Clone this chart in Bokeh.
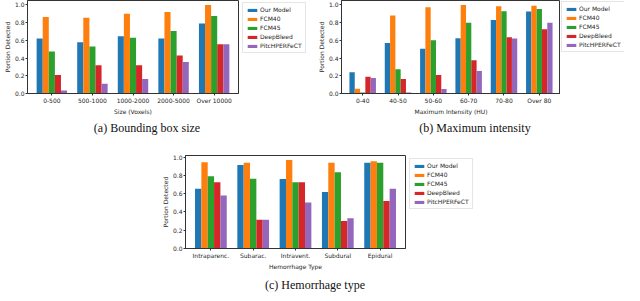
from bokeh.plotting import figure
from bokeh.layouts import column, row
from bokeh.models import (ColumnDataSource, FactorRange, Range1d, Legend, LegendItem,
                          FixedTicker, PrintfTickFormatter, Div, Spacer)
from bokeh.transform import dodge
from bokeh.embed import file_html
from bokeh.resources import INLINE

# ---------------- data ----------------
series_names = ["Our Model", "FCM40", "FCM45", "DeepBleed", "PitcHPERFeCT"]
series_keys = ["our", "fcm40", "fcm45", "deepbleed", "pitch"]
colors = ["#1f77b4", "#ff7f0e", "#2ca02c", "#d62728", "#9467bd"]

size_cats = ["0-500", "500-1000", "1000-2000", "2000-5000", "Over 10000"]
size_our = [0.62, 0.58, 0.645, 0.62, 0.79]
size_fcm40 = [0.865, 0.855, 0.90, 0.92, 1.0]
size_fcm45 = [0.475, 0.53, 0.63, 0.705, 0.875]
size_deepbleed = [0.21, 0.32, 0.32, 0.43, 0.555]
size_pitch = [0.035, 0.11, 0.165, 0.355, 0.555]

int_cats = ["0-40", "40-50", "50-60", "60-70", "70-80", "Over 80"]
int_our = [0.24, 0.57, 0.505, 0.625, 0.83, 0.925]
int_fcm40 = [0.055, 0.88, 0.975, 1.0, 0.985, 0.99]
int_fcm45 = [0.01, 0.275, 0.60, 0.80, 0.93, 0.955]
int_deepbleed = [0.19, 0.165, 0.21, 0.375, 0.635, 0.725]
int_pitch = [0.175, 0.01, 0.05, 0.255, 0.62, 0.80]

type_cats = ["Intraparenc.", "Subarac.", "Intravent.", "Subdural", "Epidural"]
type_our = [0.655, 0.915, 0.76, 0.62, 0.94]
type_fcm40 = [0.945, 0.94, 0.97, 0.94, 0.955]
type_fcm45 = [0.79, 0.765, 0.725, 0.835, 0.94]
type_deepbleed = [0.725, 0.315, 0.725, 0.30, 0.52]
type_pitch = [0.58, 0.315, 0.505, 0.33, 0.655]

y_ticks = [0.0, 0.2, 0.4, 0.6, 0.8, 1.0]

FONT = "DejaVu Sans"
TXT = "#262626"
LINE = "#333333"


def make_panel(cats, series, xlabel, w, h, bl, br, bt, bb):
    data = {"cat": cats}
    for k, v in zip(series_keys, series):
        data[k] = v
    src = ColumnDataSource(data)
    ymax = max(max(v) for v in series) * 1.05
    p = figure(x_range=FactorRange(factors=cats, range_padding=0.1,
                                   range_padding_units="absolute"),
               y_range=Range1d(0, ymax),
               width=w, height=h,
               min_border_left=bl, min_border_right=br,
               min_border_top=bt, min_border_bottom=bb,
               output_backend="svg", toolbar_location=None)
    bw = 0.15
    for i, (k, c) in enumerate(zip(series_keys, colors)):
        p.vbar(x=dodge("cat", (i - 2) * bw, range=p.x_range), top=k, width=bw,
               bottom=0, source=src, fill_color=c, line_color=None)

    p.grid.visible = False
    p.outline_line_color = LINE
    p.outline_line_width = 1
    p.background_fill_color = "white"
    p.border_fill_color = "white"
    for ax in (p.xaxis[0], p.yaxis[0]):
        ax.axis_line_color = LINE
        ax.major_tick_line_color = LINE
        ax.major_tick_out = 2
        ax.major_tick_in = 0
        ax.minor_tick_line_color = None
        ax.major_label_text_font = FONT
        ax.major_label_text_font_size = "6px"
        ax.major_label_text_color = TXT
        ax.major_label_standoff = 1
        ax.axis_label_text_font = FONT
        ax.axis_label_text_font_size = "6px"
        ax.axis_label_text_font_style = "normal"
        ax.axis_label_text_color = TXT
        ax.axis_label_standoff = 1
    p.xaxis[0].axis_label = xlabel
    p.xaxis[0].major_label_orientation = "horizontal"
    p.yaxis[0].axis_label = "Portion Detected"
    p.yaxis[0].ticker = FixedTicker(ticks=y_ticks)
    p.yaxis[0].formatter = PrintfTickFormatter(format="%.1f")
    return p


def make_legend(w, h, m):
    # legend-only canvas: one zero-size proxy bar per series provides the swatch style
    q = figure(width=w, height=h, x_range=Range1d(0, 1), y_range=Range1d(0, 1),
               x_axis_location=None, y_axis_location=None,
               min_border_left=0, min_border_right=0, min_border_top=0, min_border_bottom=0,
               output_backend="svg", toolbar_location=None)
    q.grid.visible = False
    q.outline_line_color = None
    q.background_fill_color = "white"
    q.border_fill_color = "white"
    items = []
    for name, c in zip(series_names, colors):
        r = q.vbar(x=[0.5], top=[0], bottom=0, width=0, fill_color=c, line_color=None)
        items.append(LegendItem(label=name, renderers=[r]))
    leg = Legend(items=items, location="top_left", margin=m,
                 padding=3, spacing=2,
                 label_height=7, glyph_height=4, glyph_width=12, label_standoff=2,
                 label_text_font=FONT, label_text_font_size="6px",
                 label_text_color=TXT, border_line_color="#cccccc",
                 border_line_width=1, background_fill_color="white",
                 background_fill_alpha=1.0)
    q.add_layout(leg)
    return q


TOP_H = 118
BOT_H = 133

pa = make_panel(size_cats, [size_our, size_fcm40, size_fcm45, size_deepbleed, size_pitch],
                "Size (Voxels)", 240, TOP_H, 22, 2, 0, 25)
la = make_legend(74, TOP_H, 2)
pb = make_panel(int_cats, [int_our, int_fcm40, int_fcm45, int_deepbleed, int_pitch],
                "Maximum Intensity (HU)", 246, TOP_H, 22, 0, 0, 25)
lb = make_legend(64, TOP_H, 1)
pc = make_panel(type_cats, [type_our, type_fcm40, type_fcm45, type_deepbleed, type_pitch],
                "Hemorrhage Type", 249, BOT_H, 22, 2, 15, 25)
lc = make_legend(75, BOT_H - 16, 2)

CAP = ("position:absolute;transform:translateX(-50%);white-space:nowrap;"
       "font-family:'Liberation Serif',serif;font-size:12px;line-height:14px;color:#111;")

cap_top = Div(text=(
    '<div style="position:relative;width:624px;height:22px;">'
    f'<span style="{CAP}left:147px;top:3px;">(a) Bounding box size</span>'
    f'<span style="{CAP}left:475px;top:3px;">(b) Maximum intensity</span>'
    '</div>'), width=624, height=22, margin=0)

cap_bot = Div(text=(
    '<div style="position:relative;width:624px;height:20px;">'
    f'<span style="{CAP}left:315px;top:5px;">(c) Hemorrhage type</span>'
    '</div>'), width=624, height=20, margin=0)

layout = column(
    row(pa, la, pb, lb, spacing=0),
    cap_top,
    row(Spacer(width=158, height=10), pc,
        column(Spacer(width=75, height=16), lc, spacing=0), spacing=0),
    cap_bot,
    spacing=0,
)

open("out.html", "w").write(file_html(layout, INLINE))
